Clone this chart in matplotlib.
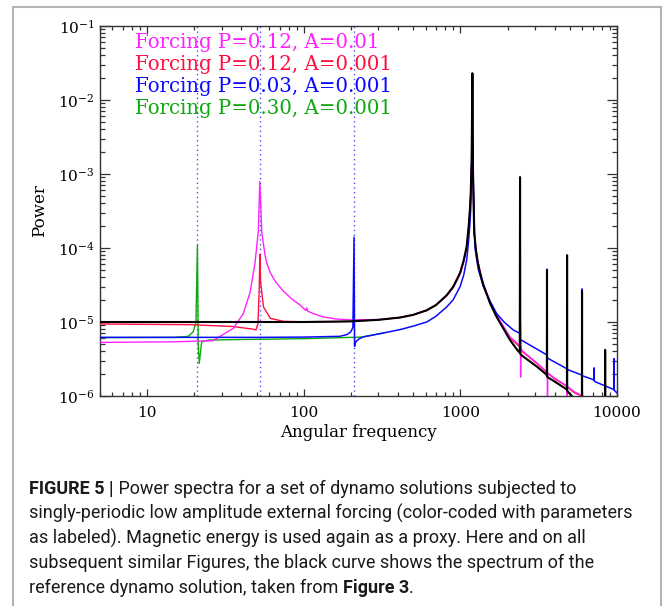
import matplotlib
matplotlib.use('Agg')
import matplotlib.pyplot as plt
from matplotlib.lines import Line2D
from matplotlib.ticker import FixedLocator, LogLocator, NullFormatter

# ---- data (angular frequency, power) ----
# reference dynamo (black)
ref_f = [5, 20, 50, 100, 200, 300, 412, 500, 610, 700, 818, 900, 995, 1050, 1097,
         1130, 1150, 1164, 1180, 1193, 1203, 1225, 1260, 1290, 1336, 1400, 1545,
         1703, 1800, 2075, 2345, 2395, 2404, 2413, 2480, 3076, 3540, 3566, 3573,
         3580, 3600, 4030, 4660, 4792, 4800, 4808, 4900, 5140, 5500, 5972, 5980,
         5988, 8392, 8400, 8408, 10000]
ref_p = [1.0e-5, 1.0e-5, 1.0e-5, 1.0e-5, 1.02e-5, 1.07e-5, 1.15e-5, 1.25e-5,
         1.44e-5, 1.7e-5, 2.3e-5, 3.0e-5, 4.6e-5, 6.8e-5, 1.05e-4, 2.0e-4, 3.3e-4,
         5.5e-4, 1.5e-3, 2.3e-2, 1.2e-3, 1.6e-4, 9.0e-5, 6.5e-5, 4.6e-5, 3.2e-5,
         1.8e-5, 1.17e-5, 9.6e-6, 5.7e-6, 4.0e-6, 3.9e-6, 9.1e-4, 3.7e-6, 3.5e-6,
         2.5e-6, 1.95e-6, 1.9e-6, 5.0e-5, 1.85e-6, 1.8e-6, 1.55e-6, 1.27e-6,
         1.22e-6, 8.0e-5, 1.18e-6, 1.12e-6, 1.0e-6, 0.85e-6, 0.6e-6, 2.6e-5,
         0.6e-6, 0.4e-6, 4.2e-6, 0.4e-6, 0.35e-6]

# P=0.12, A=0.01 (magenta)
mag_f = [5, 15, 26.3, 27.8, 35.5, 41.1, 45.4, 48.8, 51.3, 52.4, 54, 56.6, 58,
         61.2, 66, 74.2, 85, 94.7, 103, 104.5, 106, 115, 133, 160, 197, 300, 412,
         500, 610, 700, 818, 900, 995, 1050, 1097, 1130, 1150, 1164, 1180, 1193,
         1203, 1225, 1260, 1290, 1336, 1400, 1545, 1703, 1800, 2075, 2345, 2410,
         2418, 2424, 2430, 2480, 3076, 3540, 3590, 3600, 3610, 4030, 4660, 4790,
         4798, 4805, 4812, 5300, 6040, 6600]
mag_p = [5.3e-6, 5.4e-6, 5.6e-6, 6.0e-6, 8.2e-6, 1.3e-5, 2.5e-5, 6.2e-5, 1.7e-4,
         7.9e-4, 1.6e-4, 8.0e-5, 6.3e-5, 4.6e-5, 3.5e-5, 2.6e-5, 2.0e-5, 1.7e-5,
         1.43e-5, 1.55e-5, 1.4e-5, 1.3e-5, 1.17e-5, 1.1e-5, 1.07e-5, 1.08e-5,
         1.15e-5, 1.25e-5, 1.44e-5, 1.7e-5, 2.25e-5, 2.9e-5, 4.4e-5, 6.5e-5, 1.0e-4,
         1.9e-4, 3.2e-4, 5.0e-4, 1.4e-3, 2.0e-2, 1.1e-3, 1.6e-4, 9.2e-5, 6.7e-5,
         4.8e-5, 3.3e-5, 1.9e-5, 1.25e-5, 1.02e-5, 6.3e-6, 5.0e-6, 4.9e-6, 9.0e-6,
         1.8e-6, 4.6e-6, 4.1e-6, 2.8e-6, 2.15e-6, 2.1e-6, 0.9e-6, 2.05e-6, 1.72e-6,
         1.42e-6, 1.38e-6, 1.8e-6, 0.9e-6, 1.35e-6, 1.15e-6, 1.0e-6, 0.88e-6]

# P=0.12, A=0.001 (red)
red_f = [5, 18.7, 35, 47.6, 49.5, 51.0, 52.0, 52.4, 53.0, 55.3, 61.2, 74.5, 120,
         200, 300, 412, 500, 610, 700, 818, 900, 995, 1050, 1097, 1130, 1150, 1164,
         1180, 1193, 1203, 1225, 1260, 1290, 1336, 1400, 1545, 1703, 1800, 2075,
         2345, 2410, 2418, 2425, 2480, 3076, 3540, 4030, 4660, 5300, 6040, 6600]
red_p = [9.4e-6, 9.2e-6, 8.7e-6, 8.0e-6, 7.8e-6, 9.5e-6, 3.0e-5, 8.2e-5, 3.5e-5,
         1.6e-5, 1.12e-5, 1.02e-5, 1.0e-5, 1.02e-5, 1.07e-5, 1.15e-5, 1.25e-5,
         1.44e-5, 1.7e-5, 2.3e-5, 2.95e-5, 4.5e-5, 6.6e-5, 1.02e-4, 1.95e-4,
         3.2e-4, 5.2e-4, 1.4e-3, 2.0e-2, 1.1e-3, 1.6e-4, 9.1e-5, 6.6e-5, 4.7e-5,
         3.25e-5, 1.85e-5, 1.22e-5, 1.0e-5, 6.1e-6, 4.8e-6, 4.7e-6, 7.0e-6,
         4.4e-6, 4.0e-6, 2.75e-6, 2.1e-6, 1.68e-6, 1.4e-6, 1.12e-6, 0.98e-6, 0.85e-6]

# P=0.03, A=0.001 (blue)
blu_f = [5, 50, 100, 170, 190, 200, 206, 209.4, 211, 215, 225, 240, 322, 412,
         500, 610, 700, 818, 900, 995, 1050, 1097, 1130, 1150, 1164, 1180, 1193,
         1203, 1240, 1300, 1402, 1550, 1704, 1900, 2177, 2345, 2395, 2413, 3560,
         3566, 3573, 3580, 3600, 4720, 4792, 4800, 4808, 4900, 5960, 5972, 5980,
         5988, 7142, 7150, 7158, 7240, 9572, 9580, 9588, 10000]
blu_p = [6.2e-6, 6.2e-6, 6.25e-6, 6.4e-6, 6.8e-6, 7.4e-6, 8.5e-6, 1.4e-4, 4.7e-6,
         5.4e-6, 5.9e-6, 6.3e-6, 7.1e-6, 7.9e-6, 8.8e-6, 1.0e-5, 1.2e-5, 1.6e-5,
         2.0e-5, 3.0e-5, 4.3e-5, 6.9e-5, 1.3e-4, 2.1e-4, 3.3e-4, 1.3e-3, 2.2e-2,
         1.2e-3, 1.0e-4, 5.2e-5, 3.0e-5, 1.9e-5, 1.3e-5, 1.0e-5, 7.8e-6, 7.2e-6,
         7.0e-6, 5.8e-6, 3.6e-6, 3.55e-6, 5.2e-5, 3.3e-6, 3.25e-6, 2.37e-6,
         2.33e-6, 7.0e-5, 2.3e-6, 2.25e-6, 1.92e-6, 1.9e-6, 2.8e-5, 1.88e-6,
         1.65e-6, 2.4e-6, 1.63e-6, 1.56e-6, 1.22e-6, 3.2e-6, 1.2e-6, 1.1e-6]

# P=0.30, A=0.001 (green)
grn_f = [5, 15, 18.3, 19.7, 20.5, 20.94, 21.2, 21.5, 22.3, 24.6, 40, 100, 200,
         214, 240, 322]
grn_p = [6.15e-6, 6.2e-6, 6.4e-6, 7.4e-6, 1.0e-5, 1.1e-4, 5.0e-6, 2.75e-6,
         5.4e-6, 5.7e-6, 5.8e-6, 5.95e-6, 6.2e-6, 6.2e-6, 6.3e-6, 7.1e-6]

forcing_freqs = [20.94, 52.36, 209.4]     # 2*pi/P, dotted markers
legend_labels = ['Forcing P=0.12, A=0.01', 'Forcing P=0.12, A=0.001',
                 'Forcing P=0.03, A=0.001', 'Forcing P=0.30, A=0.001']

x_ticks = [10, 100, 1000, 10000]
x_ticklabels = ['10', '100', '1000', '10000']
y_ticks = [1e-6, 1e-5, 1e-4, 1e-3, 1e-2, 1e-1]
y_ticklabels = [r'$10^{-6}$', r'$10^{-5}$', r'$10^{-4}$', r'$10^{-3}$',
                r'$10^{-2}$', r'$10^{-1}$']

caption_lines = [
    [('FIGURE 5 |', 'bold'),
     (' Power spectra for a set of dynamo solutions subjected to', 'normal')],
    [('singly-periodic low amplitude external forcing (color-coded with parameters', 'normal')],
    [('as labeled). Magnetic energy is used again as a proxy. Here and on all', 'normal')],
    [('subsequent similar Figures, the black curve shows the spectrum of the', 'normal')],
    [('reference dynamo solution, taken from ', 'normal'), ('Figure 3', 'bold'),
     ('.', 'normal')],
]

C_MAG, C_RED, C_BLU, C_GRN = '#ff22ff', '#ff1040', '#0a0aff', '#10a810'

plt.rcParams['font.family'] = ['DejaVu Serif']
plt.rcParams['mathtext.fontset'] = 'dejavuserif'

W, H = 663, 606
fig = plt.figure(figsize=(W / 100, H / 100), dpi=100)
ax = fig.add_axes([100 / W, 1 - 396 / H, 517 / W, 370 / H])

for f in forcing_freqs:
    ax.axvline(f, color='#4a4aff', lw=1.0, ls=(0, (1, 2.4)), zorder=1)

ax.plot(grn_f, grn_p, color=C_GRN, lw=1.0, zorder=2)
ax.plot(red_f, red_p, color=C_RED, lw=1.0, zorder=3)
ax.plot(mag_f, mag_p, color=C_MAG, lw=1.0, zorder=3)
ax.plot(blu_f, blu_p, color=C_BLU, lw=1.1, zorder=4)
ax.plot(ref_f, ref_p, color='black', lw=1.5, zorder=5)

ax.set_xscale('log'); ax.set_yscale('log')
ax.set_xlim(5, 10000); ax.set_ylim(1e-6, 1e-1)

ax.xaxis.set_major_locator(FixedLocator(x_ticks))
ax.set_xticklabels(x_ticklabels)
ax.yaxis.set_major_locator(FixedLocator(y_ticks))
ax.set_yticklabels(y_ticklabels)
for a in (ax.xaxis, ax.yaxis):
    a.set_minor_locator(LogLocator(base=10, subs=range(2, 10), numticks=20))
    a.set_minor_formatter(NullFormatter())

ax.tick_params(which='both', direction='in', top=True, right=True,
               color='#333333', width=0.9, labelsize=11)
ax.tick_params(axis='x', which='major', length=5.2, pad=7)
ax.tick_params(axis='x', which='minor', length=2.8)
ax.tick_params(axis='y', which='major', length=7.5, pad=4)
ax.tick_params(axis='y', which='minor', length=3.6)
for s in ax.spines.values():
    s.set_color('#333333'); s.set_linewidth(1.0)

ax.set_xlabel('Angular frequency', fontsize=12, labelpad=3)
ax.set_ylabel('Power', fontsize=12, labelpad=7)

ys = [0.9392, 0.8811, 0.8216, 0.7622]
for lab, c, yy in zip(legend_labels, [C_MAG, C_RED, C_BLU, C_GRN], ys):
    ax.text(0.0677, yy, lab, color=c, fontsize=14.2, transform=ax.transAxes,
            va='baseline', ha='left')

# grey frame around the figure panel
fc = '#b4b4b4'
fig.add_artist(Line2D([13 / W, 661 / W], [1 - 7 / H, 1 - 7 / H], color=fc, lw=1.5,
                      transform=fig.transFigure))
fig.add_artist(Line2D([13 / W, 13 / W], [1 - 7 / H, -0.02], color=fc, lw=1.5,
                      transform=fig.transFigure))
fig.add_artist(Line2D([661 / W, 661 / W], [1 - 7 / H, -0.02], color=fc, lw=1.5,
                      transform=fig.transFigure))

# caption with mixed bold / normal runs
renderer = fig.canvas.get_renderer()
y0 = 494
for i, line in enumerate(caption_lines):
    x = 29.0
    ypix = y0 + i * 24.7
    for txt, wt in line:
        t = fig.text(x / W, 1 - ypix / H, txt, fontsize=13.0, fontweight=wt,
                     family=['Roboto', 'DejaVu Sans'], color='#1a1a1a',
                     va='baseline', ha='left')
        bb = t.get_window_extent(renderer)
        x = bb.x1

fig.savefig('out.png', dpi=100)
